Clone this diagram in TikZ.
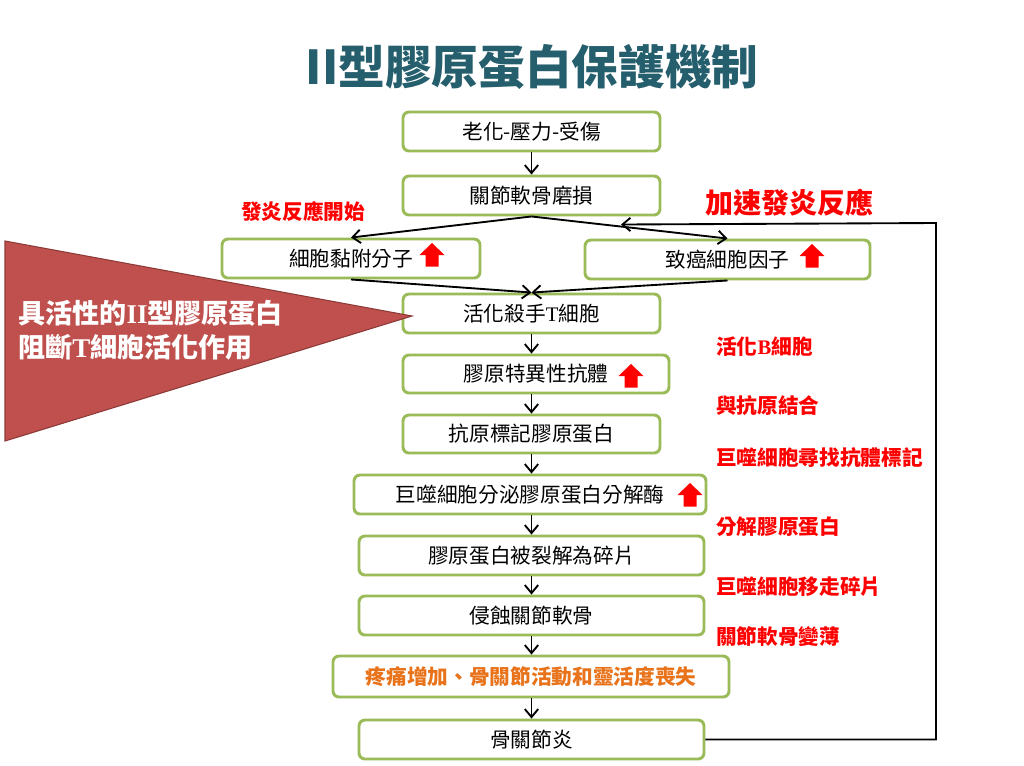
\documentclass[tikz,border=0pt]{standalone}
\usepackage{fontspec}
\setmainfont{Noto Sans CJK TC}
\newfontfamily\cjk{Noto Sans CJK TC}
\newfontfamily\lat{Liberation Serif}
\usetikzlibrary{arrows.meta}
\definecolor{boxgreen}{HTML}{9BBB59}
\definecolor{titleteal}{HTML}{255E6C}
\definecolor{trired}{HTML}{C0504D}
\definecolor{triedge}{HTML}{8C3A38}
\definecolor{painorange}{HTML}{E8731A}
\begin{document}
\begin{tikzpicture}[x=0.75pt,y=-0.75pt,
  flowbox/.style={draw=boxgreen, line width=2.2pt, fill=white, rounded corners=4.5pt,
    minimum width=192.75pt, minimum height=29.25pt, inner sep=0pt,
    font=\fontsize{15.5pt}{18pt}\selectfont},
  conn/.style={line width=1.4pt, draw=black, -{Straight Barb[length=6pt,width=10pt,line width=1.4pt]}},
  redlabel/.style={text=red, font=\fontsize{15.5pt}{18pt}\selectfont\bfseries, inner sep=0pt},
  uparrow/.pic={\fill[red] (0,-12) -- (12.5,0) -- (6.5,0) -- (6.5,11.5) -- (-6.5,11.5) -- (-6.5,0) -- (-12.5,0) -- cycle;}
]
\useasboundingbox (0,0) rectangle (1024,765);
\fill[white] (0,0) rectangle (1024,765);

% title
\node[text=titleteal, font=\fontsize{35pt}{40pt}\selectfont\bfseries, inner sep=0pt] (title) at (532,67) {II型膠原蛋白保護機制};

% boxes
\node[flowbox] (B1) at (531.5,131.5) {老化-壓力-受傷};
\node[flowbox] (B2) at (531.5,195.5) {關節軟骨磨損};
\node[flowbox, minimum width=193.5pt] (B3) at (351,258.5) {細胞黏附分子\hspace{8pt}};
\node[flowbox, minimum width=213.75pt] (B4) at (727.5,259.5) {致癌細胞因子};
\node[flowbox] (B5) at (531.5,313.5) {活化殺手{\lat T}細胞};
\node[flowbox, minimum width=199.5pt, minimum height=28.5pt] (B6) at (536,374) {膠原特異性抗體\hspace{15pt}};
\node[flowbox, minimum height=28.5pt] (B7) at (531.5,434) {抗原標記膠原蛋白};
\node[flowbox, minimum width=264pt] (B8) at (530,494.5) {巨噬細胞分泌膠原蛋白分解酶};
\node[flowbox, minimum width=258.75pt] (B9) at (531.5,555.5) {膠原蛋白被裂解為碎片};
\node[flowbox, minimum width=258.75pt] (B10) at (531.5,615.5) {侵蝕關節軟骨};
\node[flowbox, minimum width=297pt, minimum height=30.75pt, text=painorange, font=\fontsize{15.5pt}{18pt}\selectfont\bfseries] (B11) at (531,676.5) {疼痛增加、骨關節活動和靈活度喪失};
\node[flowbox, minimum width=258.75pt] (B12) at (531.5,739.5) {骨關節炎};

% red up arrows
\pic at (432,255) {uparrow};
\pic at (812,256) {uparrow};
\pic at (631,376) {uparrow};
\pic at (690,495) {uparrow};

% connectors
\draw[conn] (B1.south) -- (B2.north);
\draw[conn] (B2.south) -- (B3.north);
\draw[conn] (B2.south) -- (B4.north);
\draw[conn] (B3.south) -- (B5.north);
\draw[conn] (B4.south) -- (B5.north);
\draw[conn] (B5.south) -- (B5.south |- B6.north);
\draw[conn] (B7.north |- B6.south) -- (B7.north);
\draw[conn] (B7.south) -- (B7.south |- B8.north);
\draw[conn] (B9.north |- B8.south) -- (B9.north);
\draw[conn] (B9.south) -- (B10.north);
\draw[conn] (B10.south) -- (B10.south |- B11.north);
\draw[conn] (B12.north |- B11.south) -- (B12.north);
\coordinate (fbend) at (621,224.5);
\draw[conn] (B12.east) -- (936,739.5) -- (936,223) -- (fbend);

% triangle
\draw[fill=trired, draw=triedge, line width=0.8pt] (5,241) -- (412,316) -- (5,441) -- cycle;
\node[text=white, font=\fontsize{20.3pt}{25pt}\selectfont\bfseries, anchor=west, inner sep=0pt] (tri1) at (18,313) {具活性的{\lat\bfseries II}型膠原蛋白};
\node[text=white, font=\fontsize{20.3pt}{25pt}\selectfont\bfseries, anchor=west, inner sep=0pt] (tri2) at (18,347) {阻斷{\lat\bfseries T}細胞活化作用};

% red labels
\node[redlabel] (L0) at (303,212) {發炎反應開始};
\node[redlabel, font=\fontsize{21pt}{24pt}\selectfont\bfseries] (L1) at (789,203) {加速發炎反應};
\node[redlabel, anchor=west] (L2) at (716,347) {活化{\lat\bfseries B}細胞};
\node[redlabel, anchor=west] (L3) at (716,406) {與抗原結合};
\node[redlabel, anchor=west] (L4) at (716,458) {巨噬細胞尋找抗體標記};
\node[redlabel, anchor=west] (L5) at (716,527) {分解膠原蛋白};
\node[redlabel, anchor=west] (L6) at (716,587) {巨噬細胞移走碎片};
\node[redlabel, anchor=west] (L7) at (716,637) {關節軟骨變薄};
\end{tikzpicture}
\end{document}
